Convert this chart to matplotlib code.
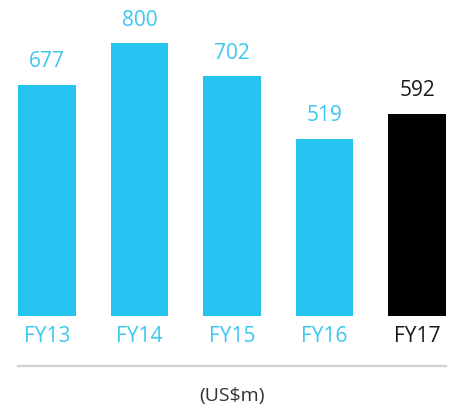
import matplotlib
matplotlib.use("Agg")
import matplotlib.pyplot as plt

categories = ["FY13", "FY14", "FY15", "FY16", "FY17"]
values = [677, 800, 702, 519, 592]
colors = ["#25C4F0", "#25C4F0", "#25C4F0", "#25C4F0", "#000000"]
label_colors = ["#3CC6F0", "#3CC6F0", "#3CC6F0", "#3CC6F0", "#1a1a1a"]
unit_label = "(US$m)"

W, H = 451, 409
plt.rcParams["font.family"] = ["Open Sans", "DejaVu Sans"]

fig = plt.figure(figsize=(W / 100, H / 100), dpi=100)

left_px, right_px = 18, 446
top_px, bottom_px = 0, 316
ax = fig.add_axes([left_px / W, (H - bottom_px) / H,
                   (right_px - left_px) / W, (bottom_px - top_px) / H])

bar_w = 0.627
x = list(range(len(categories)))
ax.bar(x, values, width=bar_w, color=colors)
ax.set_xlim(-bar_w / 2, len(categories) - 1 + bar_w / 2)
ax.set_ylim(0, 800 * 316 / 273)
ax.axis("off")

for xi, v, c in zip(x, values, label_colors):
    ax.annotate(f"{v}", (xi, v), xytext=(0, 9), textcoords="offset points",
                ha="center", va="bottom", fontsize=15, color=c)

for xi, cat, c in zip(x, categories, label_colors):
    ax.annotate(cat, (xi, 0), xytext=(0, -14.5), textcoords="offset points",
                ha="center", va="center", fontsize=15, color=c)

# divider and unit caption below the bars
fig.add_artist(plt.Line2D([left_px / W, right_px / W], [(H - 366) / H] * 2,
                          color="#d0d0d0", linewidth=1.6))
fig.text((left_px + right_px) / 2 / W, (H - 396) / H, unit_label,
         ha="center", va="center", fontsize=14, color="#333333")

fig.savefig("out.png", dpi=100)
